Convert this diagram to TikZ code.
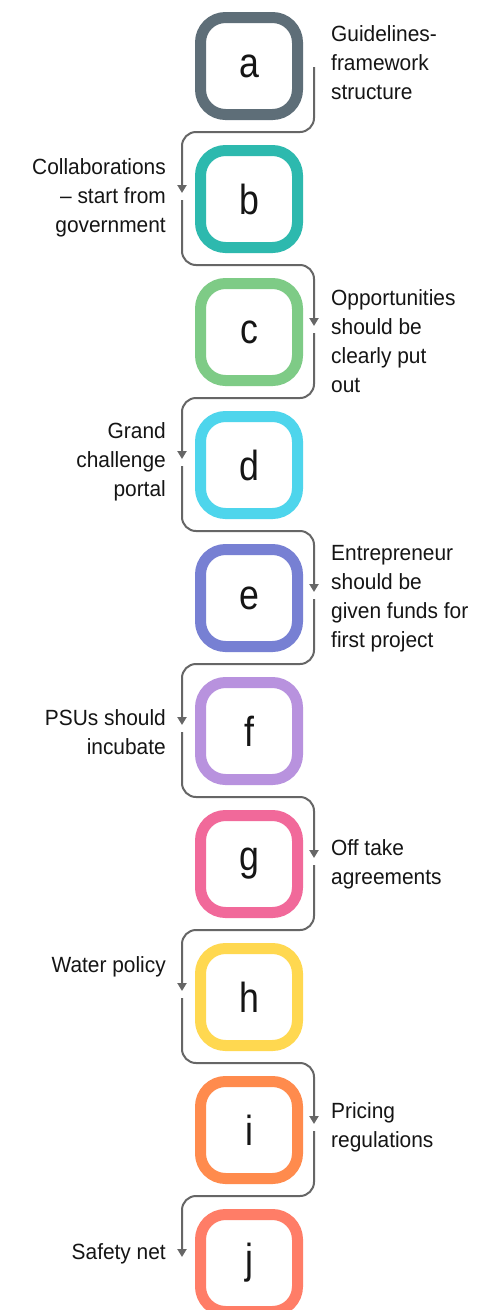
\documentclass[tikz,border=0pt]{standalone}
\usepackage{fontspec}
\setmainfont{Liberation Sans}[FakeStretch=0.95]
\newfontfamily\boxfont{Liberation Sans}[FakeStretch=0.85]
\usetikzlibrary{arrows.meta}
\definecolor{cA}{HTML}{5E6E78}
\definecolor{cB}{HTML}{2DB9AE}
\definecolor{cC}{HTML}{7ECB86}
\definecolor{cD}{HTML}{4ED5EC}
\definecolor{cE}{HTML}{7780D3}
\definecolor{cF}{HTML}{B892DE}
\definecolor{cG}{HTML}{F1699A}
\definecolor{cH}{HTML}{FFD850}
\definecolor{cI}{HTML}{FF8B4D}
\definecolor{cJ}{HTML}{FF7D67}
\definecolor{conn}{HTML}{666666}
\definecolor{txt}{HTML}{151515}
\begin{document}
\begin{tikzpicture}[x=1pt,y=-1pt,
  stepbox/.style={draw=#1, line width=11pt, rounded corners=25pt, minimum width=97pt, minimum height=97pt, inner sep=0pt, outer sep=0pt,
    font=\boxfont\fontsize{42}{42}\selectfont, text=txt},
  conline/.style={draw=conn, line width=2pt, rounded corners=14pt, -{Triangle[width=9pt,length=8pt]}},
  rlabel/.style={anchor=west, align=left, inner sep=0pt, text=txt, font=\fontsize{22}{29}\selectfont},
  llabel/.style={anchor=east, align=right, inner sep=0pt, text=txt, font=\fontsize{22}{29}\selectfont}]
\useasboundingbox[fill=white] (0,0) rectangle (496,1310);
\node[stepbox=cA] (a) at (249,66) {a};
\node[stepbox=cB] (b) at (249,199) {b};
\node[stepbox=cC] (c) at (249,332) {c};
\node[stepbox=cD] (d) at (249,465) {d};
\node[stepbox=cE] (e) at (249,598) {e};
\node[stepbox=cF] (f) at (249,731) {f};
\node[stepbox=cG] (g) at (249,864) {g};
\node[stepbox=cH] (h) at (249,997) {h};
\node[stepbox=cI] (i) at (249,1130) {i};
\node[stepbox=cJ] (j) at (249,1263) {j};
% connectors: anchors lie on the path (outer sep=0), path edges at x=200.5 and 297.5
\foreach \s/\t in {a/b,c/d,e/f,g/h,i/j}{
  \draw[conline] ([xshift=16.5pt,yshift=-1pt]\s.east) -- ++(0,65) -| ([xshift=-18.5pt,yshift=6pt]\t.west);
}
\foreach \s/\t in {b/c,d/e,f/g,h/i}{
  \draw[conline] ([xshift=-18.5pt,yshift=-1pt]\s.west) -- ++(0,65) -| ([xshift=16.5pt,yshift=6pt]\t.east);
}
\node[rlabel] (ta) at (331,63) {Guidelines-\\framework\\structure};
\node[llabel] (tb) at (166,197.5) {Collaborations\\– start from\\government};
\node[rlabel] (tc) at (331,341.5) {Opportunities\\should be\\clearly put\\out};
\node[llabel] (td) at (166,462) {Grand\\challenge\\portal};
\node[rlabel] (te) at (331,598.5) {Entrepreneur\\should be\\given funds for\\first project};
\node[llabel] (tf) at (166,732.5) {PSUs should\\incubate};
\node[rlabel] (tg) at (331,864.5) {Off take\\agreements};
\node[llabel] (th) at (166,967) {Water policy};
\node[rlabel] (ti) at (331,1127.5) {Pricing\\regulations};
\node[llabel] (tj) at (166,1254) {Safety net};
\end{tikzpicture}
\end{document}
